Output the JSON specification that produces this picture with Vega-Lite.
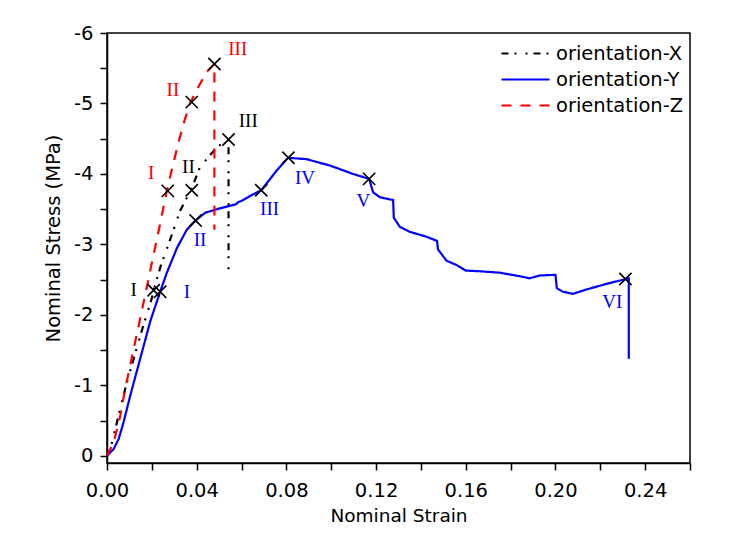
{
  "$schema": "https://vega.github.io/schema/vega-lite/v6.json",
  "width": 583,
  "height": 430,
  "autosize": {"type": "none"},
  "padding": {"left": 107, "top": 33, "right": 44, "bottom": 82},
  "background": "white",
  "config": {
    "view": {"stroke": "black", "strokeWidth": 1.5},
    "axis": {
      "domainColor": "black", "domainWidth": 1.5, "tickColor": "black", "tickWidth": 1.5,
      "labelColor": "black", "titleColor": "black", "labelFont": "DejaVu Sans", "titleFont": "DejaVu Sans",
      "labelFontSize": 19.5, "titleFontSize": 18.5, "titleFontWeight": "normal", "grid": false
    },
    "legend": {"padding": 0}
  },
  "datasets": {
    "curves": [
      {"series": "orientation-X", "i": 0, "strain": 0, "stress": 0},
      {"series": "orientation-X", "i": 1, "strain": 0.0015, "stress": -0.1},
      {"series": "orientation-X", "i": 2, "strain": 0.0037, "stress": -0.38},
      {"series": "orientation-X", "i": 3, "strain": 0.0059, "stress": -0.67},
      {"series": "orientation-X", "i": 4, "strain": 0.0089, "stress": -1.05},
      {"series": "orientation-X", "i": 5, "strain": 0.0119, "stress": -1.38},
      {"series": "orientation-X", "i": 6, "strain": 0.0163, "stress": -1.86},
      {"series": "orientation-X", "i": 7, "strain": 0.02, "stress": -2.24},
      {"series": "orientation-X", "i": 8, "strain": 0.0208, "stress": -2.35},
      {"series": "orientation-X", "i": 9, "strain": 0.024, "stress": -2.7},
      {"series": "orientation-X", "i": 10, "strain": 0.0274, "stress": -3.0},
      {"series": "orientation-X", "i": 11, "strain": 0.0326, "stress": -3.48},
      {"series": "orientation-X", "i": 12, "strain": 0.0376, "stress": -3.78},
      {"series": "orientation-X", "i": 13, "strain": 0.0415, "stress": -4.1},
      {"series": "orientation-X", "i": 14, "strain": 0.049, "stress": -4.38},
      {"series": "orientation-X", "i": 15, "strain": 0.0542, "stress": -4.49},
      {"series": "orientation-X", "i": 16, "strain": 0.0542, "stress": -2.58},
      {"series": "orientation-Y", "i": 0, "strain": 0, "stress": 0},
      {"series": "orientation-Y", "i": 1, "strain": 0.003, "stress": -0.1},
      {"series": "orientation-Y", "i": 2, "strain": 0.0052, "stress": -0.24},
      {"series": "orientation-Y", "i": 3, "strain": 0.0074, "stress": -0.48},
      {"series": "orientation-Y", "i": 4, "strain": 0.0104, "stress": -0.86},
      {"series": "orientation-Y", "i": 5, "strain": 0.0148, "stress": -1.38},
      {"series": "orientation-Y", "i": 6, "strain": 0.0193, "stress": -1.91},
      {"series": "orientation-Y", "i": 7, "strain": 0.0237, "stress": -2.33},
      {"series": "orientation-Y", "i": 8, "strain": 0.0267, "stress": -2.6},
      {"series": "orientation-Y", "i": 9, "strain": 0.0312, "stress": -2.95},
      {"series": "orientation-Y", "i": 10, "strain": 0.0356, "stress": -3.21},
      {"series": "orientation-Y", "i": 11, "strain": 0.0395, "stress": -3.34},
      {"series": "orientation-Y", "i": 12, "strain": 0.0438, "stress": -3.45},
      {"series": "orientation-Y", "i": 13, "strain": 0.049, "stress": -3.5},
      {"series": "orientation-Y", "i": 14, "strain": 0.0549, "stress": -3.55},
      {"series": "orientation-Y", "i": 15, "strain": 0.0575, "stress": -3.57},
      {"series": "orientation-Y", "i": 16, "strain": 0.0585, "stress": -3.6},
      {"series": "orientation-Y", "i": 17, "strain": 0.0601, "stress": -3.62},
      {"series": "orientation-Y", "i": 18, "strain": 0.0645, "stress": -3.7},
      {"series": "orientation-Y", "i": 19, "strain": 0.0688, "stress": -3.77},
      {"series": "orientation-Y", "i": 20, "strain": 0.0757, "stress": -4.05},
      {"series": "orientation-Y", "i": 21, "strain": 0.0801, "stress": -4.21},
      {"series": "orientation-Y", "i": 22, "strain": 0.0809, "stress": -4.23},
      {"series": "orientation-Y", "i": 23, "strain": 0.089, "stress": -4.21},
      {"series": "orientation-Y", "i": 24, "strain": 0.0994, "stress": -4.12},
      {"series": "orientation-Y", "i": 25, "strain": 0.1098, "stress": -4.0},
      {"series": "orientation-Y", "i": 26, "strain": 0.1169, "stress": -3.93},
      {"series": "orientation-Y", "i": 27, "strain": 0.1187, "stress": -3.74},
      {"series": "orientation-Y", "i": 28, "strain": 0.1217, "stress": -3.67},
      {"series": "orientation-Y", "i": 29, "strain": 0.1276, "stress": -3.63},
      {"series": "orientation-Y", "i": 30, "strain": 0.1279, "stress": -3.38},
      {"series": "orientation-Y", "i": 31, "strain": 0.1306, "stress": -3.25},
      {"series": "orientation-Y", "i": 32, "strain": 0.135, "stress": -3.18},
      {"series": "orientation-Y", "i": 33, "strain": 0.1425, "stress": -3.11},
      {"series": "orientation-Y", "i": 34, "strain": 0.1472, "stress": -3.05},
      {"series": "orientation-Y", "i": 35, "strain": 0.1476, "stress": -2.93},
      {"series": "orientation-Y", "i": 36, "strain": 0.1514, "stress": -2.77},
      {"series": "orientation-Y", "i": 37, "strain": 0.1558, "stress": -2.71},
      {"series": "orientation-Y", "i": 38, "strain": 0.16, "stress": -2.63},
      {"series": "orientation-Y", "i": 39, "strain": 0.1662, "stress": -2.62},
      {"series": "orientation-Y", "i": 40, "strain": 0.1751, "stress": -2.6},
      {"series": "orientation-Y", "i": 41, "strain": 0.184, "stress": -2.55},
      {"series": "orientation-Y", "i": 42, "strain": 0.1885, "stress": -2.52},
      {"series": "orientation-Y", "i": 43, "strain": 0.1929, "stress": -2.56},
      {"series": "orientation-Y", "i": 44, "strain": 0.2, "stress": -2.57},
      {"series": "orientation-Y", "i": 45, "strain": 0.2006, "stress": -2.38},
      {"series": "orientation-Y", "i": 46, "strain": 0.2033, "stress": -2.33},
      {"series": "orientation-Y", "i": 47, "strain": 0.2078, "stress": -2.3},
      {"series": "orientation-Y", "i": 48, "strain": 0.2137, "stress": -2.36},
      {"series": "orientation-Y", "i": 49, "strain": 0.2226, "stress": -2.44},
      {"series": "orientation-Y", "i": 50, "strain": 0.2327, "stress": -2.52},
      {"series": "orientation-Y", "i": 51, "strain": 0.2327, "stress": -1.38},
      {"series": "orientation-Z", "i": 0, "strain": 0, "stress": 0},
      {"series": "orientation-Z", "i": 1, "strain": 0.0007, "stress": -0.05},
      {"series": "orientation-Z", "i": 2, "strain": 0.003, "stress": -0.19},
      {"series": "orientation-Z", "i": 3, "strain": 0.0059, "stress": -0.57},
      {"series": "orientation-Z", "i": 4, "strain": 0.0081, "stress": -0.95},
      {"series": "orientation-Z", "i": 5, "strain": 0.0111, "stress": -1.4},
      {"series": "orientation-Z", "i": 6, "strain": 0.0148, "stress": -1.95},
      {"series": "orientation-Z", "i": 7, "strain": 0.0178, "stress": -2.4},
      {"series": "orientation-Z", "i": 8, "strain": 0.02, "stress": -2.74},
      {"series": "orientation-Z", "i": 9, "strain": 0.0223, "stress": -3.08},
      {"series": "orientation-Z", "i": 10, "strain": 0.0245, "stress": -3.42},
      {"series": "orientation-Z", "i": 11, "strain": 0.0266, "stress": -3.75},
      {"series": "orientation-Z", "i": 12, "strain": 0.0292, "stress": -4.1},
      {"series": "orientation-Z", "i": 13, "strain": 0.0319, "stress": -4.45},
      {"series": "orientation-Z", "i": 14, "strain": 0.0345, "stress": -4.75},
      {"series": "orientation-Z", "i": 15, "strain": 0.037, "stress": -5.0},
      {"series": "orientation-Z", "i": 16, "strain": 0.041, "stress": -5.25},
      {"series": "orientation-Z", "i": 17, "strain": 0.0445, "stress": -5.45},
      {"series": "orientation-Z", "i": 18, "strain": 0.0479, "stress": -5.56},
      {"series": "orientation-Z", "i": 19, "strain": 0.0479, "stress": -3.21}
    ],
    "markers": [
      {"series": "orientation-Z", "stage": "I", "strain": 0.0271, "stress": -3.76},
      {"series": "orientation-Z", "stage": "II", "strain": 0.0378, "stress": -5.02},
      {"series": "orientation-Z", "stage": "III", "strain": 0.0479, "stress": -5.56},
      {"series": "orientation-X", "stage": "I", "strain": 0.0208, "stress": -2.35},
      {"series": "orientation-X", "stage": "II", "strain": 0.0378, "stress": -3.77},
      {"series": "orientation-X", "stage": "III", "strain": 0.0542, "stress": -4.49},
      {"series": "orientation-Y", "stage": "I", "strain": 0.0237, "stress": -2.33},
      {"series": "orientation-Y", "stage": "II", "strain": 0.0395, "stress": -3.34},
      {"series": "orientation-Y", "stage": "III", "strain": 0.0688, "stress": -3.77},
      {"series": "orientation-Y", "stage": "IV", "strain": 0.0809, "stress": -4.23},
      {"series": "orientation-Y", "stage": "V", "strain": 0.1169, "stress": -3.93},
      {"series": "orientation-Y", "stage": "VI", "strain": 0.2312, "stress": -2.51}
    ],
    "labels": [
      {"series": "orientation-Z", "stage": "I", "strain": 0.0197, "stress": -4.01},
      {"series": "orientation-Z", "stage": "II", "strain": 0.0294, "stress": -5.19},
      {"series": "orientation-Z", "stage": "III", "strain": 0.0583, "stress": -5.77},
      {"series": "orientation-X", "stage": "I", "strain": 0.0119, "stress": -2.35},
      {"series": "orientation-X", "stage": "II", "strain": 0.0363, "stress": -4.1},
      {"series": "orientation-X", "stage": "III", "strain": 0.063, "stress": -4.75},
      {"series": "orientation-Y", "stage": "I", "strain": 0.0356, "stress": -2.33},
      {"series": "orientation-Y", "stage": "II", "strain": 0.0415, "stress": -3.06},
      {"series": "orientation-Y", "stage": "III", "strain": 0.0725, "stress": -3.5},
      {"series": "orientation-Y", "stage": "IV", "strain": 0.0883, "stress": -3.95},
      {"series": "orientation-Y", "stage": "V", "strain": 0.1143, "stress": -3.62},
      {"series": "orientation-Y", "stage": "VI", "strain": 0.2253, "stress": -2.19}
    ]
  },
  "encoding": {
    "x": {
      "field": "strain", "type": "quantitative",
      "scale": {"domain": [0, 0.26], "nice": false, "zero": false},
      "axis": {
        "values": [0, 0.02, 0.04, 0.06, 0.08, 0.1, 0.12, 0.14, 0.16, 0.18, 0.2, 0.22, 0.24, 0.26],
        "labelExpr": "round(datum.value * 100) % 4 === 0 ? format(datum.value, '.2f') : ''",
        "title": "Nominal Strain", "tickSize": 7, "labelPadding": 11, "titlePadding": 7, "labelFlush": false
      }
    },
    "y": {
      "field": "stress", "type": "quantitative",
      "scale": {"domain": [-6, 0.1], "reverse": true, "nice": false, "zero": false},
      "axis": {
        "values": [-6, -5.5, -5, -4.5, -4, -3.5, -3, -2.5, -2, -1.5, -1, -0.5, 0],
        "labelExpr": "datum.value % 1 === 0 ? '' + datum.value : ''",
        "title": "Nominal Stress (MPa)", "titleFontSize": 19.5, "titleX": -44, "titleY": 205,
        "tickSize": 7, "labelPadding": 7, "labelFlush": false
      }
    }
  },
  "layer": [
    {
      "data": {"name": "curves"},
      "mark": {"type": "line", "strokeWidth": 2.2, "clip": true},
      "encoding": {
        "color": {
          "field": "series", "type": "nominal",
          "scale": {"domain": ["orientation-X", "orientation-Y", "orientation-Z"], "range": ["#000000", "#0000ff", "#ff0000"]},
          "legend": {
            "title": null, "orient": "none", "legendX": 393, "legendY": 8,
            "symbolType": "stroke", "symbolSize": 2304, "symbolStrokeWidth": 2.2,
            "labelFont": "DejaVu Sans", "labelFontSize": 19.5, "labelColor": "black",
            "clipHeight": 25, "rowPadding": 1, "labelOffset": 5, "labelLimit": 300
          }
        },
        "strokeDash": {
          "field": "series", "type": "nominal",
          "scale": {"domain": ["orientation-X", "orientation-Y", "orientation-Z"], "range": [[7, 6, 2, 9, 2, 6], [1, 0], [10, 9]]},
          "legend": {
            "title": null, "orient": "none", "legendX": 393, "legendY": 8,
            "symbolType": "stroke", "symbolSize": 2304, "symbolStrokeWidth": 2.2,
            "labelFont": "DejaVu Sans", "labelFontSize": 19.5, "labelColor": "black",
            "clipHeight": 25, "rowPadding": 1, "labelOffset": 5, "labelLimit": 300
          }
        },
        "order": {"field": "i", "type": "quantitative"}
      }
    },
    {
      "data": {"name": "markers"},
      "mark": {"type": "point", "shape": "M-1,-1L1,1M-1,1L1,-1", "size": 150, "stroke": "black", "strokeWidth": 1.6, "filled": false, "opacity": 1}
    },
    {
      "data": {"name": "labels"},
      "transform": [{"filter": "datum.series === 'orientation-X'"}],
      "mark": {"type": "text", "font": "Liberation Serif", "fontSize": 19, "align": "center", "baseline": "middle", "color": "#000000"},
      "encoding": {"text": {"field": "stage", "type": "nominal"}}
    },
    {
      "data": {"name": "labels"},
      "transform": [{"filter": "datum.series === 'orientation-Y'"}],
      "mark": {"type": "text", "font": "Liberation Serif", "fontSize": 19, "align": "center", "baseline": "middle", "color": "#0000ff"},
      "encoding": {"text": {"field": "stage", "type": "nominal"}}
    },
    {
      "data": {"name": "labels"},
      "transform": [{"filter": "datum.series === 'orientation-Z'"}],
      "mark": {"type": "text", "font": "Liberation Serif", "fontSize": 19, "align": "center", "baseline": "middle", "color": "#ff0000"},
      "encoding": {"text": {"field": "stage", "type": "nominal"}}
    }
  ]
}
